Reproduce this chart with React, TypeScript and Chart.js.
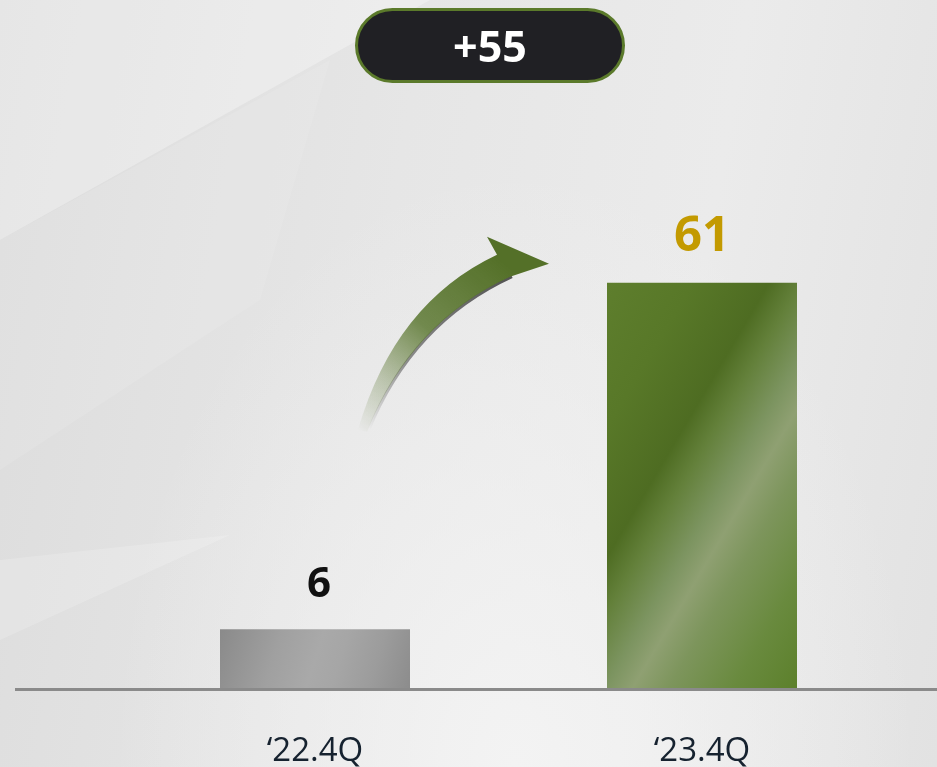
import React, { useEffect, useRef } from "react";
import { Chart, registerables } from "chart.js";

Chart.register(...registerables);

const categories = ["\u201822.4Q", "\u201823.4Q"];
const values = [6, 61];
const valueLabelColors = ["#111111", "#c39a00"];
const valueLabelSizes = [42, 49];
const axisMin = -3.5;
const axisMax = 90;

const FONT = "'Open Sans', 'Noto Sans', sans-serif";

const arrowPlugin = {
  id: "arrowDeco",
  beforeDatasetsDraw(chart: any) {
    const ctx = chart.ctx as CanvasRenderingContext2D;
    const x = chart.scales.x;
    const y = chart.scales.y;
    const x0 = x.getPixelForValue(0);
    const x1 = x.getPixelForValue(1);
    const dx = (x1 - x0) / 387;
    const px = (v: number) => x0 + (v - 315) * dx;
    const yTop = y.getPixelForValue(values[1]);
    const py = (v: number) => yTop + (v - 283);
    ctx.save();
    const sg = ctx.createLinearGradient(px(370), py(430), px(520), py(275));
    sg.addColorStop(0, "rgba(60,60,60,0)");
    sg.addColorStop(0.35, "rgba(60,60,60,0.55)");
    sg.addColorStop(1, "rgba(40,40,40,0.8)");
    ctx.beginPath();
    ctx.moveTo(px(512), py(277));
    ctx.quadraticCurveTo(px(412), py(323), px(368), py(432));
    ctx.strokeStyle = sg;
    ctx.lineWidth = 3;
    ctx.stroke();

    const g = ctx.createLinearGradient(px(360), py(432), px(500), py(260));
    g.addColorStop(0, "rgba(100,125,60,0)");
    g.addColorStop(0.25, "rgba(100,125,60,0.35)");
    g.addColorStop(0.55, "rgba(92,120,50,0.85)");
    g.addColorStop(1, "rgba(84,112,40,1)");
    ctx.beginPath();
    ctx.moveTo(px(358), py(430));
    ctx.quadraticCurveTo(px(395), py(303), px(497), py(255));
    ctx.lineTo(px(487), py(237));
    ctx.lineTo(px(549), py(264));
    ctx.lineTo(px(510), py(277));
    ctx.quadraticCurveTo(px(412), py(322), px(367), py(432));
    ctx.closePath();
    ctx.fillStyle = g;
    ctx.fill();
    ctx.restore();
  },
  afterDatasetsDraw(chart: any) {
    const ctx = chart.ctx as CanvasRenderingContext2D;
    const x = chart.scales.x;
    const y = chart.scales.y;
    const base = y.getPixelForValue(axisMin);
    ctx.save();
    ctx.fillStyle = "#8a8a8a";
    ctx.fillRect(15, base - 1, chart.width - 15, 3);
    ctx.textAlign = "center";
    ctx.textBaseline = "alphabetic";
    values.forEach((v, i) => {
      const cx = x.getPixelForValue(i);
      const top = y.getPixelForValue(v);
      ctx.font = `bold ${valueLabelSizes[i]}px ${FONT}`;
      ctx.fillStyle = valueLabelColors[i];
      ctx.fillText(String(v), cx + (i === 0 ? 4 : 0), top - 32);
    });
    ctx.restore();
  },
};

function barFill(c: any) {
  const fallback = c.dataIndex === 0 ? "#9a9a9a" : "#5c7c2c";
  const chart = c.chart;
  const xs = chart.scales && chart.scales.x;
  const ys = chart.scales && chart.scales.y;
  if (!xs || !ys || c.dataIndex === undefined) return fallback;
  const cx = xs.getPixelForValue(c.dataIndex);
  const half = 95;
  const top = ys.getPixelForValue(values[c.dataIndex]);
  const bot = ys.getPixelForValue(axisMin);
  if (![cx, top, bot].every((n) => Number.isFinite(n))) return fallback;
  const ctx = chart.ctx as CanvasRenderingContext2D;
  if (c.dataIndex === 0) {
    const g = ctx.createLinearGradient(cx - half, top, cx + half, bot);
    g.addColorStop(0, "#8a8a8a");
    g.addColorStop(0.3, "#a0a0a0");
    g.addColorStop(0.5, "#a9a9a9");
    g.addColorStop(0.62, "#a6a6a6");
    g.addColorStop(0.8, "#9c9c9c");
    g.addColorStop(1, "#8c8c8c");
    return g;
  }
  const ux = 0.861, uy = 0.509;
  const a = (cx - half) * ux + top * uy;
  const b = (cx + half) * ux + bot * uy;
  const L = b - a;
  const g = ctx.createLinearGradient(cx - half, top, cx - half + ux * L, top + uy * L);
  g.addColorStop(0, "#5e7e2d");
  g.addColorStop(0.2, "#587828");
  g.addColorStop(0.377, "#4e6c22");
  g.addColorStop(0.45, "#63803a");
  g.addColorStop(0.55, "#7c9460");
  g.addColorStop(0.616, "#8fa072");
  g.addColorStop(0.7, "#7d955c");
  g.addColorStop(0.85, "#698a3e");
  g.addColorStop(1, "#5c802b");
  return g;
}

export default function App() {
  const ref = useRef<HTMLCanvasElement | null>(null);
  useEffect(() => {
    document.body.style.margin = "0";
    const canvas = ref.current!;
    const chart = new Chart(canvas, {
      type: "bar",
      data: {
        labels: categories,
        datasets: [
          {
            data: values,
            base: axisMin,
            backgroundColor: barFill as any,
            borderWidth: 0,
            categoryPercentage: 1,
            barPercentage: 190 / 387,
          } as any,
        ],
      },
      options: {
        responsive: false,
        animation: false,
        devicePixelRatio: 1,
        layout: { padding: { left: 121.5, right: 41.5, top: 100, bottom: 0 } },
        plugins: { legend: { display: false }, tooltip: { enabled: false } },
        scales: {
          x: {
            grid: { display: false, drawTicks: false },
            border: { display: false },
            ticks: {
              color: "#16222f",
              font: { family: FONT, size: 33 },
              padding: 43,
            },
            afterFit: (s: any) => {
              s.height = 78;
            },
          },
          y: {
            display: false,
            min: axisMin,
            max: axisMax,
          },
        },
      },
      plugins: [arrowPlugin],
    });
    return () => chart.destroy();
  }, []);

  const poly = (pts: string, color: string) => (
    <div
      style={{
        position: "absolute",
        inset: 0,
        background: color,
        clipPath: `polygon(${pts})`,
      }}
    />
  );

  return (
    <div
      style={{
        position: "fixed",
        left: 0,
        top: 0,
        width: 937,
        height: 767,
        overflow: "hidden",
        background:
          "radial-gradient(ellipse at 55% 100%, #f3f3f3 0%, rgba(243,243,243,0) 55%), linear-gradient(100deg, #dcdcdc 0%, #e6e6e6 40%, #ebebeb 70%, #e2e2e2 100%)",
      }}
    >
      {poly("0px 0px, 430px 0px, 0px 240px", "rgba(255,255,255,0.3)")}
      {poly("0px 240px, 330px 60px, 260px 300px, 0px 470px", "rgba(255,255,255,0.1)")}
      {poly("0px 560px, 230px 535px, 0px 640px", "rgba(255,255,255,0.18)")}
      <canvas
        ref={ref}
        width={937}
        height={767}
        style={{ display: "block", position: "absolute", left: 0, top: 0 }}
      />
      <div
        style={{
          position: "absolute",
          left: 355,
          top: 8,
          width: 270,
          height: 75,
          boxSizing: "border-box",
          border: "3px solid #5b7a2b",
          borderRadius: 38,
          background: "#202024",
          color: "#ffffff",
          fontFamily: FONT,
          fontWeight: 700,
          fontSize: 43,
          display: "flex",
          alignItems: "center",
          justifyContent: "center",
          lineHeight: 1,
        }}
      >
        {"+" + (values[1] - values[0])}
      </div>
    </div>
  );
}
